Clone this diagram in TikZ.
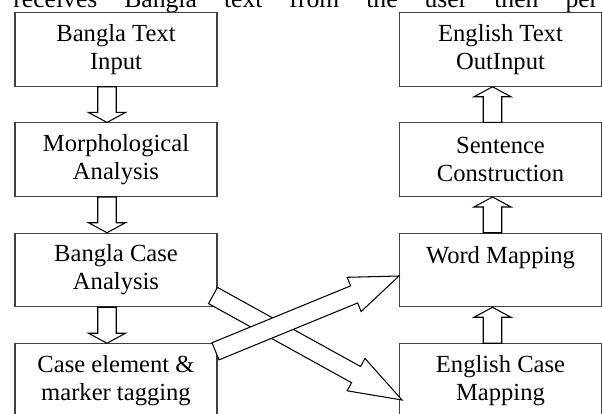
\documentclass[tikz,border=0pt]{standalone}
\usepackage{fontspec}
\setmainfont{Liberation Serif}
\usetikzlibrary{calc}

% outlined block arrow: tail, tip, head length
\newcommand{\blockarrow}[3]{%
	\coordinate (headbase) at ($(#2)!#3!(#1)$);
	\filldraw[blockline] ($(#1)!0.185cm!90:(#2)$) -- ($(headbase)!0.185cm!90:(#2)$)
		-- ($(headbase)!0.37cm!90:(#2)$) -- (#2) -- ($(headbase)!0.37cm!-90:(#2)$)
		-- ($(headbase)!0.185cm!-90:(#2)$) -- ($(#1)!0.185cm!-90:(#2)$) -- cycle;}

\begin{document}
\begin{tikzpicture}[x=0.02cm, y=-0.02cm, box/.style={draw=black!75, line width=0.6pt, minimum width=4.04cm, minimum height=1.47cm, align=center, inner sep=0pt, font=\fontsize{14}{15.9}\selectfont}, blockline/.style={fill=white, draw=black, line width=0.6pt}]

		\useasboundingbox (0,0) rectangle (602,413);
		\clip (0,0) rectangle (602,413);

		\node[anchor=base west, text width=11.7cm, inner sep=0pt, font=\fontsize{14.6}{16}\selectfont] (body) at (13,7.5) {receives\hfill Bangla\hfill text\hfill from\hfill the\hfill user\hfill then\hfill per};

		\node[box] (1) at (116, 49.5) {Bangla Text\\Input};
		\node[box] (2) at (116, 159.7) {Morphological\\Analysis};
		\node[box] (3) at (116, 270) {Bangla Case\\Analysis};
		\node[box] (4) at (116, 380.5) {Case element \&\\marker tagging};
		\node[box] (5) at (500.5, 380.5) {English Case\\Mapping};
		\node[box, text height=0.34cm, text depth=0.61cm] (6) at (500.5, 270) {Word Mapping};
		\node[box] (7) at (500.5, 159.7) {Sentence\\Construction};
		\node[box] (8) at (500.5, 49.5) {English Text\\OutInput};

		\foreach \a/\b in {1/2, 2/3, 3/4} {
			\coordinate (t) at ($(\a.south)+(-9,0)$);
			\coordinate (h) at ($(\b.north)+(-9,0)$);
			\blockarrow{t}{h}{0.2cm}
		}
		\foreach \a/\b in {5/6, 6/7, 7/8} {
			\coordinate (t) at ($(\a.north)+(-8,0)$);
			\coordinate (h) at ($(\b.south)+(-8,0)$);
			\blockarrow{t}{h}{0.2cm}
		}

		\coordinate (t) at ($(3.east)+(-4.5,25.5)$);
		\coordinate (h) at ($(5.west)+(3,19.5)$);
		\blockarrow{t}{h}{1.05cm}
		\coordinate (t) at ($(4.east)+(-2,-29.2)$);
		\coordinate (h) at ($(6.west)+(0,6)$);
		\blockarrow{t}{h}{0.97cm}
	\end{tikzpicture}
\end{document}
